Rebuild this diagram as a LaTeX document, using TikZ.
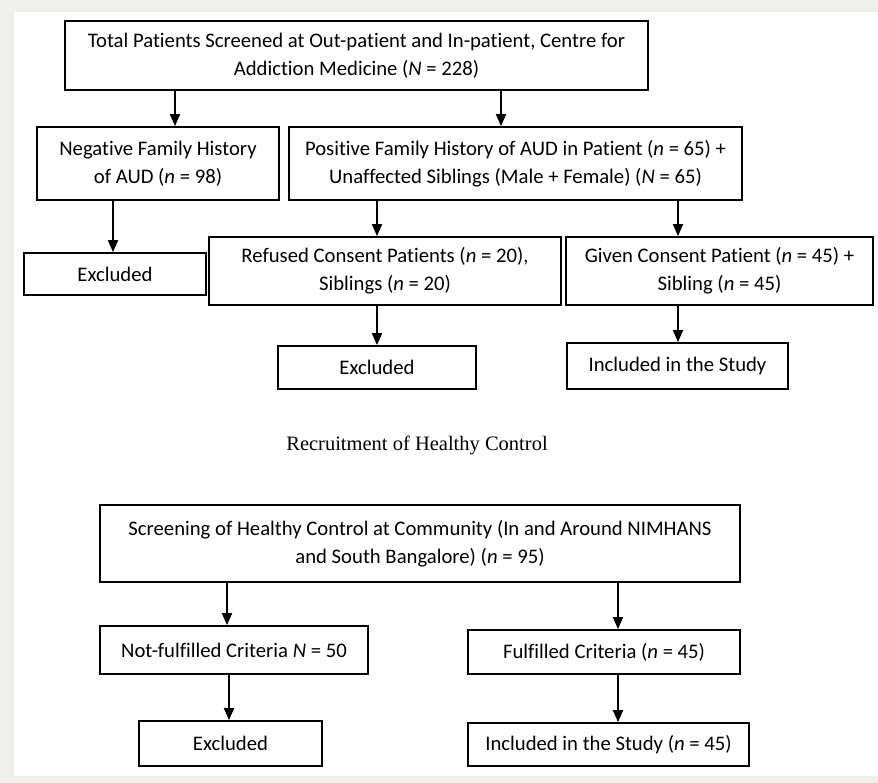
\documentclass[tikz,border=0pt]{standalone}
\usepackage{fontspec}
\setmainfont{Carlito}[Ligatures=NoCommon]
\newfontfamily\seriffont{Liberation Serif}
\usetikzlibrary{arrows.meta}
\definecolor{pagebg}{RGB}{240,238,233}
\tikzset{
  box/.style={draw=black, line width=1.8pt, fill=white, inner sep=0pt, align=center,
    font=\fontsize{20.7}{28}\selectfont},
  arr/.style={line width=1.8pt, -{Triangle[length=12pt,width=10pt]}, shorten >=0pt}
}
\begin{document}
\begin{tikzpicture}[x=1pt,y=-1pt]
\useasboundingbox (0,0) rectangle (878,783);
\fill[pagebg] (0,0) rectangle (878,783);
\fill[white] (14,12) rectangle (878,776);

\node[box, minimum width=583pt, minimum height=69pt] (top) at (356.5,55.5)
  {Total Patients Screened at Out-patient and In-patient, Centre for\\Addiction Medicine (\textit{N} = 228)};
\node[box, minimum width=242pt, minimum height=73pt] (neg) at (158,163.5)
  {Negative Family History\\of AUD (\textit{n} = 98)};
\node[box, minimum width=453pt, minimum height=73pt] (pos) at (515.5,163.5)
  {Positive Family History of AUD in Patient (\textit{n} = 65) +\\Unaffected Siblings (Male + Female) (\textit{N} = 65)};
\node[box, minimum width=182pt, minimum height=42pt] (exa) at (115,274) {Excluded};
\node[box, minimum width=352pt, minimum height=68pt] (ref) at (385,271)
  {Refused Consent Patients (\textit{n} = 20),\\Siblings (\textit{n} = 20)};
\node[box, minimum width=307pt, minimum height=68pt] (giv) at (719.5,271)
  {Given Consent Patient (\textit{n} = 45) +\\Sibling (\textit{n} = 45)};
\node[box, minimum width=198pt, minimum height=43pt] (exb) at (377,367.5) {Excluded};
\node[box, minimum width=221pt, minimum height=46pt] (inca) at (677.5,366) {Included in the Study};

\node[inner sep=0pt, font=\seriffont\fontsize{20.5}{22}\selectfont] (rec) at (417,445) {Recruitment of Healthy Control};

\node[box, minimum width=640pt, minimum height=77pt] (scr) at (420,543.5)
  {Screening of Healthy Control at Community (In and Around NIMHANS\\and South Bangalore) (\textit{n} = 95)};
\node[box, minimum width=268pt, minimum height=48pt] (nf) at (234,650)
  {Not-fulfilled Criteria \textit{N} = 50};
\node[box, minimum width=272pt, minimum height=44pt] (ful) at (604,652)
  {Fulfilled Criteria (\textit{n} = 45)};
\node[box, minimum width=183pt, minimum height=45pt] (exc) at (230.5,743.5) {Excluded};
\node[box, minimum width=281pt, minimum height=43pt] (incb) at (608.5,744.5)
  {Included in the Study (\textit{n} = 45)};

\draw[arr] (top.south -| 175,0) -- (neg.north -| 175,0);
\draw[arr] (top.south -| 501,0) -- (pos.north -| 501,0);
\draw[arr] (neg.south -| 113,0) -- (exa.north -| 113,0);
\draw[arr] (pos.south -| 377,0) -- (ref.north -| 377,0);
\draw[arr] (pos.south -| 678,0) -- (giv.north -| 678,0);
\draw[arr] (ref.south -| 377,0) -- (exb.north -| 377,0);
\draw[arr] (giv.south -| 678,0) -- (inca.north -| 678,0);
\draw[arr] (scr.south -| 227,0) -- (nf.north -| 227,0);
\draw[arr] (scr.south -| 618,0) -- (ful.north -| 618,0);
\draw[arr] (nf.south -| 229,0) -- (exc.north -| 229,0);
\draw[arr] (ful.south -| 618,0) -- (incb.north -| 618,0);
\end{tikzpicture}
\end{document}
